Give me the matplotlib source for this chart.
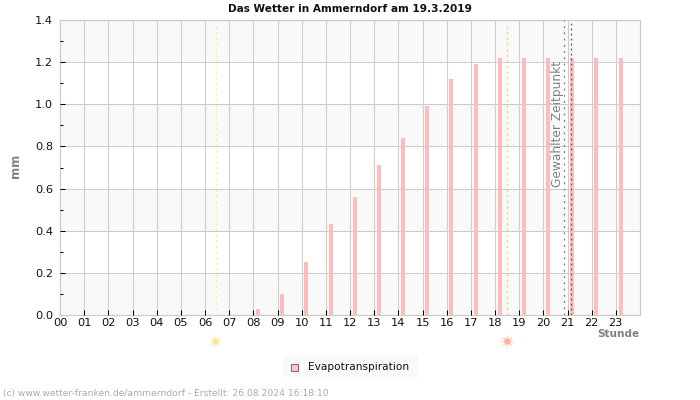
import matplotlib
matplotlib.use("Agg")
import matplotlib.pyplot as plt
from matplotlib.patches import Rectangle

hours = list(range(24))
hour_labels = [f"{h:02d}" for h in hours]
evapo = [0, 0, 0, 0, 0, 0, 0, 0, 0.03, 0.10, 0.25, 0.43, 0.56, 0.71, 0.84, 0.99,
         1.12, 1.19, 1.22, 1.22, 1.22, 1.22, 1.22, 1.22]
y_ticks = [0.0, 0.2, 0.4, 0.6, 0.8, 1.0, 1.2, 1.4]
y_minor = [0.1, 0.3, 0.5, 0.7, 0.9, 1.1, 1.3]
sunrise = 6.44
sunset = 18.5
selected = [20.85, 21.14]
title = "Das Wetter in Ammerndorf am 19.3.2019"
footer = "(c) www.wetter-franken.de/ammerndorf - Erstellt: 26.08.2024 16:18:10"

W, H = 700, 400
fig = plt.figure(figsize=(7, 4), dpi=100)
L, R, T, B = 60, 640, 20, 315
ax = fig.add_axes([L / W, 1 - B / H, (R - L) / W, (B - T) / H])
ax.set_xlim(0, 24)
ax.set_ylim(0, 1.4)
ax.set_axisbelow(False)

for lo, hi in zip(y_ticks[:-1], y_ticks[1:]):
    if round(lo / 0.2) % 2 == 0:
        ax.axhspan(lo, hi, color="#f9f9f9", lw=0, zorder=0)

for h in hours[1:]:
    ax.axvline(h, color="#cccccc", lw=0.75, zorder=1)
for v in y_ticks[1:-1]:
    ax.axhline(v, color="#cccccc", lw=0.75, zorder=1)

ax.bar([h + 0.195 for h in hours], evapo, width=0.165, color="#ffbcbc", lw=0,
       zorder=1.5, label="Evapotranspiration")

ax.axvline(sunrise, ymax=0.98, color="#fdf06a", lw=0.9, ls=(0, (1.5, 3)), zorder=1.6)
ax.axvline(sunset, ymax=0.98, color="#ffbe55", lw=0.9, ls=(0, (1.5, 3)), zorder=1.6)
ax.axvline(selected[0], color="#777777", lw=0.9, ls=(0, (1.5, 3.5)), zorder=1.6)
ax.axvline(selected[1], color="#555555", lw=0.9, ls=(0, (1.5, 2.5)), zorder=1.6)

ax.text(20.58, 0.905, "Gewählter Zeitpunkt", rotation=90, ha="center", va="center",
        fontsize=8.8, color="#808080", zorder=1.7)

ax.set_xticks(hours)
ax.set_xticklabels(hour_labels)
ax.set_yticks(y_ticks)
ax.set_yticklabels([f"{v:.1f}" for v in y_ticks])
ax.set_yticks(y_minor, minor=True)
ax.tick_params(axis="both", which="major", direction="in", length=3.5, width=0.75,
               labelsize=8.2, color="black", labelcolor="#111111")
ax.tick_params(axis="x", pad=2.5)
ax.tick_params(axis="y", pad=5)
ax.tick_params(axis="y", which="minor", direction="in", length=2, width=0.75, color="black")
ax.xaxis.get_major_ticks()[0].tick1line.set_visible(False)
ax.yaxis.get_major_ticks()[0].tick1line.set_visible(False)
ax.yaxis.get_major_ticks()[-1].tick1line.set_visible(False)
for s in ax.spines.values():
    s.set_color("#cccccc")
    s.set_linewidth(0.9)
    s.set_zorder(1)

fig.text(349.5 / W, 1 - 9 / H, title, ha="center", va="center", fontsize=7.6,
         fontweight="bold", color="#111111")
fig.text(16 / W, 1 - 166 / H, "mm", rotation=90, ha="center", va="center", fontsize=8.5,
         fontweight="bold", color="#808080")
fig.text(639 / W, 1 - 334 / H, "Stunde", ha="right", va="center", fontsize=7.6,
         fontweight="bold", color="#808080")
fig.text(3 / W, 1 - 393.5 / H, footer, ha="left", va="center", fontsize=6.55, color="#aaaaaa")

for sx, col, ray in [(214.5, "#fbe39a", "#fdf1cc"), (506.5, "#ffb49a", "#ffd9cc")]:
    fig.add_artist(plt.Line2D([sx / W], [1 - 341 / H], marker=(8, 2, 0), ms=8.5, mew=0.8, mec=ray,
                              ls="none", transform=fig.transFigure))
    fig.add_artist(plt.Line2D([sx / W], [1 - 341 / H], marker="o", ms=4.6, mfc=col, mec="none",
                              ls="none", transform=fig.transFigure))

fig.add_artist(Rectangle((283 / W, 1 - 377 / H), 135 / W, 21 / H, transform=fig.transFigure,
                         facecolor="#f9f9f9", edgecolor="none"))
fig.add_artist(Rectangle((290.5 / W, 1 - 370.5 / H), 7 / W, 7 / H, transform=fig.transFigure,
                         facecolor="#ffc4c4", edgecolor="#777777", lw=0.8))
fig.text(308 / W, 1 - 366.5 / H, "Evapotranspiration", ha="left", va="center",
         fontsize=7.6, color="#111111")

fig.savefig("out.png", dpi=100)
